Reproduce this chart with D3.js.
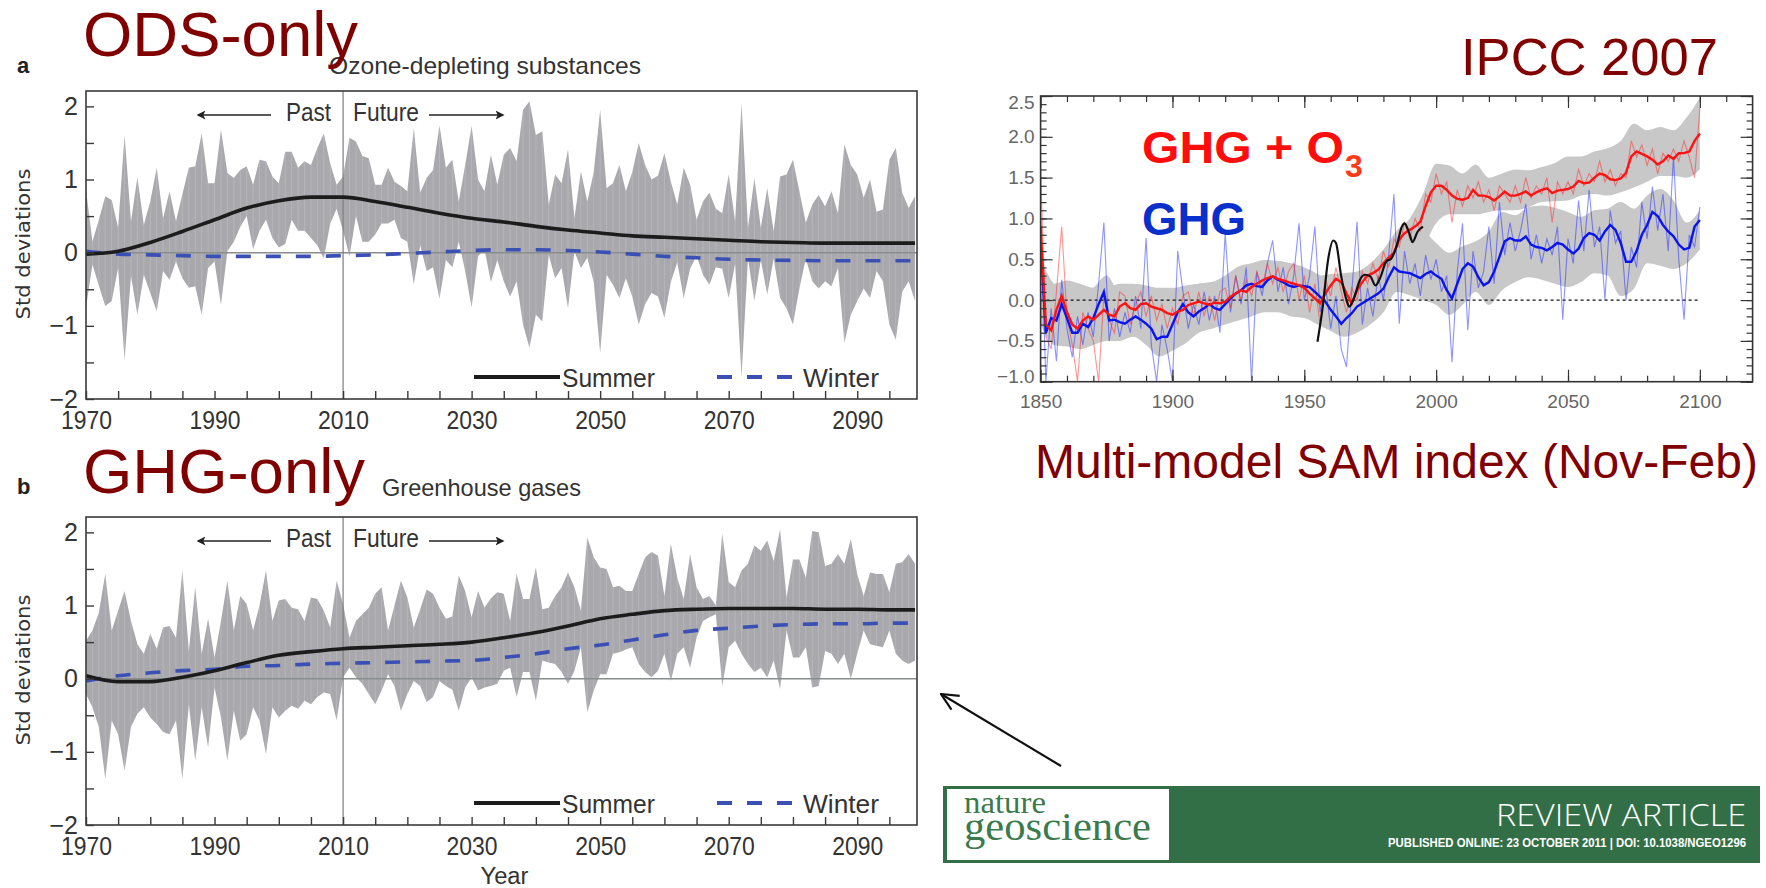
<!DOCTYPE html>
<html>
<head>
<meta charset="utf-8">
<script src="https://cdn.jsdelivr.net/npm/d3@7"></script>
<style>
  body { margin: 0; background: #fff; }
  svg { display: block; font-family: "Liberation Sans", Arial, sans-serif; }
</style>
</head>
<body>
<svg id="chart" width="1766" height="888"></svg>
<script>
// ---- panels a and b: yearly envelope of the grey band, 1970..2099 ----
const startYear = 1970;

const odsHi = [
  0.86, 0.15, 0.45, 0.77, 0.72, 0.34, 1.61, 0.43, 1.03, 0.38,
  0.70, 1.16, 0.47, 0.84, 0.43, 0.80, 1.16, 1.18, 1.63, 0.95,
  0.95, 1.68, 1.09, 1.02, 1.13, 1.18, 0.93, 1.27, 1.25, 1.04,
  0.95, 1.38, 1.38, 1.16, 1.25, 1.20, 1.43, 1.63, 1.22, 0.93,
  1.04, 1.57, 1.52, 1.32, 1.29, 0.93, 0.93, 1.16, 0.97, 0.91,
  0.84, 1.70, 0.82, 1.02, 1.13, 1.74, 1.16, 1.27, 0.70, 1.20,
  1.73, 1.00, 0.84, 1.34, 0.93, 1.34, 1.43, 1.25, 1.95, 2.07,
  1.61, 1.66, 0.66, 1.07, 0.95, 1.41, 0.47, 1.11, 0.70, 1.10,
  1.95, 0.88, 0.95, 1.20, 0.84, 1.10, 1.50, 1.20, 1.00, 1.05,
  1.36, 0.97, 0.66, 1.16, 0.93, 0.45, 0.70, 0.82, 0.60, 0.54,
  1.07, 0.43, 2.04, 0.34, 1.02, 0.34, 0.88, 0.29, 1.04, 1.07,
  1.27, 0.84, 0.41, 0.66, 0.79, 0.63, 0.84, 0.54, 1.48, 1.20,
  1.07, 0.75, 1.00, 0.56, 0.59, 1.27, 1.43, 0.82, 0.61, 0.77
];
const odsLo = [
  -0.75, -0.16, -0.45, -0.73, -0.66, -0.21, -1.47, -0.32, -0.85, -0.30,
  -0.55, -0.80, -0.25, -0.37, -0.12, -0.35, -0.48, -0.46, -0.85, -0.21,
  -0.12, -0.71, 0.02, 0.15, 0.35, 0.50, 0.05, 0.30, 0.45, 0.20,
  0.07, 0.12, 0.45, 0.30, 0.30, 0.20, 0.10, -0.08, 0.40, 0.60,
  0.30, -0.05, 0.50, 0.15, 0.15, 0.25, 0.40, 0.40, 0.45, 0.20,
  0.15, -0.43, 0.10, -0.25, -0.20, -0.63, -0.10, -0.20, 0.15, -0.25,
  -0.75, -0.05, 0.05, -0.40, -0.10, -0.39, -0.60, -0.39, -0.98, -1.30,
  -0.85, -0.94, -0.03, -0.35, -0.21, -0.76, 0.02, -0.21, -0.07, -0.40,
  -1.37, -0.30, -0.44, -0.62, -0.35, -0.60, -0.98, -0.70, -0.55, -0.60,
  -0.89, -0.40, -0.13, -0.62, -0.22, -0.04, -0.30, -0.44, -0.20, -0.22,
  -0.62, -0.15, -1.70, -0.08, -0.66, -0.10, -0.57, -0.08, -0.62, -0.76,
  -0.98, -0.49, -0.08, -0.39, -0.49, -0.39, -0.46, -0.21, -1.23, -0.85,
  -0.66, -0.49, -0.62, -0.25, -0.39, -0.98, -1.19, -0.53, -0.39, -0.66
];
const ghgHi = [
  0.52, 0.66, 0.90, 1.43, 0.66, 0.93, 1.20, 0.79, 0.47, 0.34,
  0.61, 0.41, 0.70, 0.72, 0.56, 1.48, 0.38, 1.25, 0.34, 0.82,
  0.29, 0.79, 1.34, 0.66, 1.13, 1.02, 0.66, 1.00, 1.48, 0.79,
  1.07, 1.09, 0.97, 0.95, 0.79, 1.11, 1.09, 0.93, 0.70, 1.34,
  1.02, 0.56, 0.79, 0.88, 0.97, 1.16, 1.25, 0.66, 1.00, 1.34,
  1.11, 0.70, 0.95, 1.22, 1.16, 0.97, 0.82, 0.85, 1.41, 1.20,
  0.84, 1.20, 0.97, 1.10, 1.18, 1.16, 0.79, 1.43, 1.09, 1.09,
  1.52, 0.95, 0.97, 1.13, 1.25, 1.45, 1.25, 0.93, 1.93, 1.66,
  1.52, 1.50, 1.25, 1.27, 1.20, 1.20, 1.43, 1.66, 1.73, 1.68,
  1.13, 1.84, 1.38, 1.09, 1.70, 1.25, 1.09, 1.13, 1.00, 1.98,
  1.32, 1.25, 1.48, 1.57, 1.82, 1.75, 1.89, 1.61, 2.04, 1.11,
  1.63, 1.63, 1.38, 2.02, 2.00, 1.54, 1.57, 1.70, 1.57, 1.91,
  1.43, 1.13, 1.45, 1.43, 1.43, 1.18, 1.57, 1.59, 1.70, 1.57
];
const ghgLo = [
  -0.21, -0.39, -0.66, -1.37, -0.57, -0.76, -1.26, -0.66, -0.48, -0.39,
  -0.53, -0.62, -0.73, -0.76, -0.57, -1.37, -0.35, -1.12, -0.39, -0.94,
  -0.12, -0.53, -1.12, -0.44, -0.85, -0.76, -0.39, -0.57, -1.03, -0.39,
  -0.53, -0.44, -0.37, -0.41, -0.30, -0.35, -0.25, -0.19, -0.21, -0.57,
  0.02, 0.15, 0.02, -0.07, -0.21, -0.35, -0.16, 0.06, -0.10, -0.44,
  -0.21, -0.03, -0.10, -0.32, -0.25, -0.03, -0.10, -0.15, -0.44, -0.12,
  0.02, -0.16, -0.12, -0.10, -0.07, 0.11, 0.15, -0.25, 0.09, 0.09,
  -0.30, 0.25, 0.22, 0.20, 0.09, -0.07, 0.11, 0.43, -0.46, -0.16,
  0.06, 0.06, 0.34, 0.36, 0.40, 0.43, 0.20, 0.09, 0.02, 0.11,
  0.34, -0.03, 0.34, 0.43, 0.15, 0.56, 0.79, 0.84, 0.88, -0.10,
  0.43, 0.52, 0.34, 0.20, 0.09, 0.15, 0.02, 0.25, -0.14, 0.66,
  0.29, 0.29, 0.43, -0.12, -0.10, 0.38, 0.34, 0.20, 0.34, 0.00,
  0.34, 0.66, 0.47, 0.45, 0.43, 0.66, 0.34, 0.25, 0.20, 0.25
];

// smooth summer / winter curves, every 5 years
const smoothYears = [1970, 1975, 1980, 1985, 1990, 1995, 2000, 2005, 2010, 2015, 2020, 2025, 2030, 2035,
  2040, 2045, 2050, 2055, 2060, 2065, 2070, 2075, 2080, 2085, 2090, 2095, 2099];
const odsSummer = [-0.02, 0.02, 0.14, 0.29, 0.45, 0.61, 0.71, 0.76, 0.76, 0.70, 0.62, 0.54, 0.47, 0.42,
  0.36, 0.31, 0.27, 0.23, 0.21, 0.19, 0.17, 0.15, 0.14, 0.13, 0.13, 0.13, 0.13];
const odsWinter = [0.02, -0.02, -0.03, -0.04, -0.05, -0.05, -0.05, -0.05, -0.04, -0.03, -0.01, 0.01, 0.03, 0.04,
  0.04, 0.03, 0.01, -0.02, -0.05, -0.07, -0.09, -0.10, -0.105, -0.11, -0.11, -0.11, -0.11];
const ghgSummer = [0.04, -0.04, -0.04, 0.02, 0.11, 0.22, 0.32, 0.37, 0.41, 0.43, 0.45, 0.47, 0.50, 0.56,
  0.63, 0.72, 0.82, 0.88, 0.93, 0.95, 0.96, 0.96, 0.96, 0.95, 0.95, 0.94, 0.94];
const ghgWinter = [-0.03, 0.04, 0.08, 0.11, 0.13, 0.17, 0.18, 0.20, 0.21, 0.22, 0.23, 0.24, 0.25, 0.29,
  0.34, 0.41, 0.46, 0.53, 0.60, 0.66, 0.69, 0.72, 0.74, 0.75, 0.75, 0.76, 0.76];

const yearTicks = [1970, 1990, 2010, 2030, 2050, 2070, 2090];
const stdTicks = [-2, -1, 0, 1, 2];

// ---- IPCC 2007 SAM index, 1850..2100 ----
const sampleYears = d3.range(1850, 2101, 2);
const o3Thick = [
  0.90, -0.30, -0.37, -0.12, 0.05, -0.15, -0.30, -0.35, -0.25, -0.20,
  -0.24, -0.18, -0.12, -0.18, -0.20, -0.08, -0.04, -0.10, -0.12, -0.05,
  -0.04, -0.08, -0.10, -0.12, -0.16, -0.18, -0.14, -0.12, -0.06, -0.04,
  -0.02, -0.04, -0.06, -0.03, -0.04, -0.02, 0.04, 0.08, 0.12, 0.10,
  0.16, 0.20, 0.24, 0.27, 0.29, 0.26, 0.24, 0.22, 0.20, 0.18,
  0.15, 0.08, 0.02, -0.04, 0.08, 0.18, 0.26, 0.22, 0.08, -0.04,
  0.12, 0.22, 0.30, 0.33, 0.37, 0.45, 0.52, 0.58, 0.74, 0.82,
  0.86, 0.90, 0.96, 1.15, 1.32, 1.40, 1.40, 1.35, 1.28, 1.24,
  1.23, 1.25, 1.35, 1.28, 1.28, 1.26, 1.22, 1.27, 1.33, 1.28,
  1.28, 1.30, 1.33, 1.28, 1.32, 1.35, 1.37, 1.31, 1.34, 1.35,
  1.36, 1.39, 1.46, 1.43, 1.44, 1.50, 1.55, 1.53, 1.48, 1.47,
  1.49, 1.56, 1.76, 1.82, 1.79, 1.76, 1.72, 1.66, 1.70, 1.77,
  1.73, 1.80, 1.80, 1.82, 1.95, 2.04
];
const ghgThick = [
  0.70, -0.40, -0.22, -0.25, -0.05, -0.22, -0.40, -0.40, -0.29, -0.33,
  -0.22, -0.05, 0.10, -0.25, -0.24, -0.27, -0.29, -0.24, -0.20, -0.24,
  -0.29, -0.35, -0.48, -0.45, -0.45, -0.30, -0.15, -0.05, -0.15, -0.20,
  -0.14, -0.10, -0.05, -0.10, -0.12, -0.05, 0.02, 0.08, 0.12, 0.18,
  0.20, 0.17, 0.16, 0.24, 0.29, 0.25, 0.22, 0.18, 0.16, 0.18,
  0.17, 0.16, 0.10, 0.04, -0.02, -0.12, -0.20, -0.29, -0.22, -0.16,
  -0.08, -0.04, 0.00, 0.04, 0.08, 0.14, 0.28, 0.40, 0.35, 0.34,
  0.33, 0.30, 0.27, 0.32, 0.35, 0.30, 0.26, 0.12, 0.02, 0.20,
  0.38, 0.45, 0.41, 0.28, 0.18, 0.22, 0.35, 0.53, 0.72, 0.76,
  0.73, 0.73, 0.78, 0.68, 0.65, 0.64, 0.61, 0.65, 0.70, 0.68,
  0.62, 0.57, 0.63, 0.76, 0.82, 0.80, 0.73, 0.84, 0.92, 0.86,
  0.70, 0.47, 0.47, 0.60, 0.80, 0.92, 1.08, 1.03, 0.92, 0.84,
  0.78, 0.68, 0.62, 0.64, 0.90, 0.98
];
const o3Thin = [
  1.60, -0.45, -0.60, 0.10, 0.90, -0.20, -0.55, -1.00, -0.15, -0.35,
  -0.50, -1.00, 0.05, -0.25, -0.40, 0.10, 0.05, -0.30, -0.05, 0.10,
  -0.20, 0.05, -0.25, -0.05, -0.35, -0.10, -0.30, 0.05, 0.10, -0.20,
  0.10, -0.20, 0.05, -0.25, 0.10, 0.15, -0.10, 0.30, 0.00, 0.25,
  0.05, 0.35, 0.15, 0.45, 0.20, 0.40, 0.10, 0.35, 0.45, 0.00,
  0.30, -0.15, 0.20, -0.30, 0.25, 0.05, 0.40, 0.10, -0.15, 0.15,
  0.00, 0.35, 0.20, 0.45, 0.25, 0.60, 0.40, 0.75, 0.65, 0.95,
  0.75, 1.00, 0.85, 1.30, 1.20, 1.55, 1.30, 1.45, 0.95, 1.35,
  1.15, 1.40, 1.25, 1.45, 1.20, 1.35, 1.10, 1.40, 1.30, 1.20,
  1.40, 1.20, 1.50, 1.25, 1.40, 1.30, 1.50, 0.95, 1.45, 1.30,
  1.45, 1.30, 1.60, 1.40, 1.55, 1.45, 1.70, 1.45, 1.60, 1.40,
  1.55, 1.50, 1.95, 1.75, 1.90, 1.65, 1.85, 1.55, 1.80, 1.70,
  1.85, 1.70, 1.95, 1.75, 1.50, 2.35
];
const ghgThin = [
  1.00, -1.00, -0.10, -0.75, 0.25, -0.35, -0.70, -0.20, -0.55, -0.15,
  -0.45, 0.20, 0.95, -0.50, -0.10, -0.45, -0.15, -0.40, 0.05, -0.35,
  0.76, -0.55, -1.00, -0.30, -0.60, -1.00, 0.60, 0.10, -0.35, -0.05,
  -0.30, 0.10, -0.25, 0.05, -0.40, 0.82, -0.15, 0.30, -0.05, 0.40,
  -1.00, 0.35, 0.05, 0.45, 0.73, 0.10, 0.40, -0.05, 0.30, 0.94,
  0.00, 0.30, 0.90, -0.15, 0.20, -0.35, 0.05, -0.60, -0.82, 0.10,
  0.96, -0.30, 0.15, -0.20, 0.30, 0.00, 0.55, 1.30, -0.29, 0.60,
  0.20, 0.45, 0.05, 0.55, 0.25, 0.50, 0.10, 0.30, -0.76, 0.35,
  0.94, -0.37, 0.60, 0.15, 0.35, 0.90, 0.20, 1.20, 0.55, 0.95,
  0.60, 0.85, 1.18, 0.50, 0.80, 0.45, 0.75, 0.55, 0.90, -0.24,
  0.75, 0.45, 1.22, 0.60, 1.35, 0.65, 0.90, 0.00, 1.10, 0.70,
  0.85, 0.00, 0.65, 0.40, 1.20, 0.75, 1.39, 0.85, 1.30, 0.60,
  1.76, 0.50, -0.24, 0.80, 0.65, 1.14
];

const bandYears = d3.range(1850, 2101, 5);
const o3BandHi = [
  0.50, 0.20, 0.24, 0.20, 0.15, 0.15, 0.20, 0.20, 0.18, 0.15,
  0.15, 0.18, 0.20, 0.22, 0.30, 0.41, 0.45, 0.49, 0.48, 0.45,
  0.40, 0.30, 0.32, 0.33, 0.35, 0.45, 0.62, 0.85, 1.00, 1.30,
  1.67, 1.65, 1.55, 1.66, 1.50, 1.55, 1.60, 1.59, 1.63, 1.68,
  1.76, 1.76, 1.82, 1.86, 1.95, 2.16, 2.08, 2.12, 2.08, 2.24,
  2.48
];
const o3BandLo = [
  -0.30, -0.45, -0.50, -0.55, -0.50, -0.45, -0.40, -0.38, -0.40, -0.45,
  -0.45, -0.40, -0.35, -0.30, -0.25, -0.20, -0.12, -0.08, -0.05, -0.08,
  -0.12, -0.20, -0.15, -0.20, -0.15, 0.05, 0.25, 0.45, 0.55, 0.65,
  0.94, 1.05, 1.05, 1.05, 1.08, 1.10, 1.10, 1.14, 1.20, 1.21,
  1.22, 1.28, 1.30, 1.28, 1.32, 1.38, 1.45, 1.52, 1.52, 1.50,
  1.60
];
const ghgBandHi = [
  0.50, 0.20, 0.10, 0.05, 0.15, 0.30, 0.10, 0.15, 0.10, 0.00,
  0.05, 0.15, 0.20, 0.22, 0.28, 0.38, 0.45, 0.48, 0.48, 0.44,
  0.40, 0.32, 0.20, 0.15, 0.25, 0.35, 0.55, 0.75, 0.95, 0.86,
  0.70, 0.58, 0.66, 0.72, 0.84, 1.08, 1.04, 1.14, 1.16, 1.13,
  1.08, 1.02, 1.10, 1.12, 1.20, 1.12, 1.28, 1.36, 1.22, 0.95,
  1.10
];
const ghgBandLo = [
  -0.30, -0.55, -0.57, -0.60, -0.55, -0.50, -0.50, -0.45, -0.55, -0.69,
  -0.62, -0.53, -0.40, -0.35, -0.30, -0.25, -0.20, -0.15, -0.15, -0.20,
  -0.22, -0.30, -0.38, -0.45, -0.40, -0.30, -0.15, 0.10, 0.06, 0.00,
  -0.06, -0.18, -0.06, 0.10, -0.06, 0.12, 0.22, 0.28, 0.25, 0.20,
  0.16, 0.22, 0.33, 0.30, 0.05, 0.14, 0.45, 0.42, 0.38, 0.45,
  0.62
];

const obsYears = [1955, 1957, 1959, 1961, 1962, 1964, 1966, 1967, 1969, 1971, 1973,
  1975, 1977, 1979, 1981, 1983, 1985, 1987, 1988, 1990, 1991, 1993, 1995];
const obsVals = [-0.51, -0.08, 0.49, 0.73, 0.70, 0.29, 0.00, -0.08, 0.04, 0.24, 0.31,
  0.29, 0.18, 0.29, 0.47, 0.51, 0.66, 0.90, 0.94, 0.80, 0.71, 0.84, 0.90];

const samYearLabels = [1850, 1900, 1950, 2000, 2050, 2100];
const samLabels = [-1, -0.5, 0, 0.5, 1, 1.5, 2, 2.5];

// ---------------------------------------------------------------
const svg = d3.select("#chart");
const narrow = '"Liberation Sans Narrow", "Liberation Sans", Arial, sans-serif';
const darkRed = "#800000";
const ink = "#333";

function squeeze(sel, w) {
  return sel.attr("textLength", w).attr("lengthAdjust", "spacingAndGlyphs");
}

const xA = d3.scaleLinear().domain([1970, 2099.3]).range([86, 917]);

function drawPanel(p) {
  const top = p.top, bottom = top + 308;
  const y = d3.scaleLinear().domain([-2, 2.21]).range([bottom, top]);
  const g = svg.append("g");
  const yr = i => xA(startYear + i);

  const area = d3.area().x((d, i) => yr(i)).y0((d, i) => y(p.lo[i])).y1(d => y(d));
  g.append("clipPath").attr("id", "clip-" + p.letter)
    .append("path").attr("d", area(p.hi));
  g.append("path").attr("d", area(p.hi)).attr("fill", "#a8a8ad");
  // faint year stripes inside the band
  g.append("g").attr("clip-path", `url(#clip-${p.letter})`)
    .selectAll("line").data(p.hi).join("line")
    .attr("x1", (d, i) => yr(i)).attr("x2", (d, i) => yr(i))
    .attr("y1", top).attr("y2", bottom)
    .attr("stroke", "#fff").attr("stroke-opacity", 0.17);

  g.append("line")
    .attr("x1", xA.range()[0]).attr("x2", xA.range()[1])
    .attr("y1", y(0)).attr("y2", y(0))
    .attr("stroke", "#8a8d8d").attr("stroke-width", 1.4);
  g.append("line")
    .attr("x1", xA(2010)).attr("x2", xA(2010))
    .attr("y1", top).attr("y2", bottom)
    .attr("stroke", "#7b7b7b").attr("stroke-width", 1.2);

  const line = d3.line().curve(d3.curveMonotoneX).x((d, i) => xA(smoothYears[i])).y(d => y(d));
  g.append("path").attr("d", line(p.winter))
    .attr("fill", "none").attr("stroke", "#3a50b4").attr("stroke-width", 3.6)
    .attr("stroke-dasharray", "15,15");
  g.append("path").attr("d", line(p.summer))
    .attr("fill", "none").attr("stroke", "#1c1c1c").attr("stroke-width", 3.6);

  // axes
  g.append("g")
    .attr("transform", `translate(0,${bottom})`)
    .call(d3.axisBottom(xA).tickValues(d3.range(1970, 2100, 5)).tickSizeInner(-8).tickSizeOuter(0).tickPadding(12)
      .tickFormat(d => yearTicks.includes(d) ? d : ""))
    .call(a => a.select(".domain").remove())
    .call(a => a.selectAll("line").attr("stroke", "#3a3a3a").attr("stroke-width", 1.4))
    .call(a => a.selectAll("text").attr("font-family", narrow).attr("font-size", 25).attr("fill", ink)
      .filter(d => yearTicks.includes(d)).attr("textLength", 51).attr("lengthAdjust", "spacingAndGlyphs"));

  g.append("g")
    .attr("transform", `translate(${xA.range()[0]},0)`)
    .call(d3.axisLeft(y).tickValues(d3.range(-2, 2.01, 0.5)).tickSizeInner(-8).tickSizeOuter(0).tickPadding(8)
      .tickFormat(d => stdTicks.includes(d) ? d3.format("d")(d) : ""))
    .call(a => a.select(".domain").remove())
    .call(a => a.selectAll("line").attr("stroke", "#3a3a3a").attr("stroke-width", 1.4))
    .call(a => a.selectAll("text").attr("font-family", narrow).attr("font-size", 25).attr("fill", ink));

  g.append("rect")
    .attr("x", xA.range()[0]).attr("y", top)
    .attr("width", xA.range()[1] - xA.range()[0]).attr("height", bottom - top)
    .attr("fill", "none").attr("stroke", "#3a3a3a").attr("stroke-width", 1.6);

  g.append("text")
    .attr("transform", `translate(30,${(top + bottom) / 2 - 1}) rotate(-90)`)
    .attr("text-anchor", "middle").attr("font-family", "DejaVu Sans, sans-serif")
    .attr("font-size", 20).attr("fill", ink)
    .call(s => squeeze(s, 151))
    .text("Std deviations");

  // past / future
  const pf = top + 30;
  squeeze(g.append("text").attr("x", xA(2010) - 57).attr("y", pf)
    .attr("font-family", narrow).attr("font-size", 26).attr("fill", ink).text("Past"), 45);
  squeeze(g.append("text").attr("x", xA(2010) + 10).attr("y", pf)
    .attr("font-family", narrow).attr("font-size", 26).attr("fill", ink).text("Future"), 66);
  g.append("line").attr("x1", 271).attr("x2", 198).attr("y1", pf - 6).attr("y2", pf - 6)
    .attr("stroke", "#222").attr("stroke-width", 1.6).attr("marker-end", "url(#pf-head)");
  g.append("line").attr("x1", 429).attr("x2", 503).attr("y1", pf - 6).attr("y2", pf - 6)
    .attr("stroke", "#222").attr("stroke-width", 1.6).attr("marker-end", "url(#pf-head)");

  // legend
  const ly = top + 286;
  g.append("line").attr("x1", 474).attr("x2", 560).attr("y1", ly).attr("y2", ly)
    .attr("stroke", "#1c1c1c").attr("stroke-width", 4);
  squeeze(g.append("text").attr("x", 562).attr("y", ly + 10)
    .attr("font-family", narrow).attr("font-size", 26).attr("fill", ink).text("Summer"), 93);
  g.append("line").attr("x1", 717).attr("x2", 793).attr("y1", ly).attr("y2", ly)
    .attr("stroke", "#3a50b4").attr("stroke-width", 4).attr("stroke-dasharray", "15,15");
  squeeze(g.append("text").attr("x", 803).attr("y", ly + 10)
    .attr("font-family", narrow).attr("font-size", 26).attr("fill", ink).text("Winter"), 76);

  // headings
  g.append("text").attr("x", 17).attr("y", p.letterY)
    .attr("font-weight", "bold").attr("font-size", 22).attr("fill", "#222").text(p.letter);
  squeeze(g.append("text").attr("x", p.subX).attr("y", p.subY)
    .attr("font-family", narrow).attr("font-size", 24).attr("fill", ink).text(p.subtitle), p.subW);
  squeeze(g.append("text").attr("x", 83).attr("y", p.bigY)
    .attr("font-size", 63).attr("fill", darkRed).text(p.big), p.bigW);
  return { y, bottom };
}

const defs = svg.append("defs");
defs.append("marker").attr("id", "pf-head").attr("viewBox", "0 0 12 12")
  .attr("refX", 10).attr("refY", 6).attr("markerWidth", 9).attr("markerHeight", 9)
  .attr("markerUnits", "userSpaceOnUse").attr("orient", "auto")
  .append("path").attr("d", "M0,0 L12,6 L0,12 L3,6 Z").attr("fill", "#222");
defs.append("marker").attr("id", "open-head").attr("viewBox", "0 0 20 20")
  .attr("refX", 19).attr("refY", 10).attr("markerWidth", 20).attr("markerHeight", 20)
  .attr("markerUnits", "userSpaceOnUse").attr("orient", "auto")
  .append("path").attr("d", "M2,2 L19,10 L2,18").attr("fill", "none")
  .attr("stroke", "#111").attr("stroke-width", 2.2);

drawPanel({ top: 91, hi: odsHi, lo: odsLo, summer: odsSummer, winter: odsWinter,
  letter: "a", letterY: 73, subtitle: "Ozone-depleting substances", subX: 329, subY: 74, subW: 312,
  big: "ODS-only", bigY: 56, bigW: 275 });
drawPanel({ top: 517, hi: ghgHi, lo: ghgLo, summer: ghgSummer, winter: ghgWinter,
  letter: "b", letterY: 494, subtitle: "Greenhouse gases", subX: 382, subY: 496, subW: 199,
  big: "GHG-only", bigY: 493, bigW: 282 });

squeeze(svg.append("text").attr("x", (xA.range()[0] + xA.range()[1]) / 2 + 3).attr("y", 884)
  .attr("text-anchor", "middle").attr("font-family", narrow).attr("font-size", 23).attr("fill", ink)
  .text("Year"), 48);

// ---------------- IPCC panel ----------------
const xI = d3.scaleLinear().domain([1850, 2120]).range([1040.6, 1752.6]);
const yI = d3.scaleLinear().domain([-1, 2.5]).range([381.7, 96]);
const ig = svg.append("g");
ig.append("clipPath").attr("id", "clip-ipcc").append("rect")
  .attr("x", xI(1850)).attr("y", yI(2.5))
  .attr("width", xI(2120) - xI(1850)).attr("height", yI(-1) - yI(2.5));
const plot = ig.append("g").attr("clip-path", "url(#clip-ipcc)");

const band = (hi, lo) => d3.area().curve(d3.curveMonotoneX)
  .x((d, i) => xI(bandYears[i])).y0((d, i) => yI(lo[i])).y1(d => yI(d))(hi);
plot.append("path").attr("d", band(ghgBandHi, ghgBandLo)).attr("fill", "#c8c8c8");
plot.append("path").attr("d", band(o3BandHi, o3BandLo)).attr("fill", "#c8c8c8");

plot.append("line")
  .attr("x1", xI(1850)).attr("x2", xI(2100)).attr("y1", yI(0)).attr("y2", yI(0))
  .attr("stroke", "#111").attr("stroke-width", 1.3).attr("stroke-dasharray", "3,3");

const sLine = d3.line().x((d, i) => xI(sampleYears[i])).y(d => yI(d));
plot.append("path").attr("d", sLine(ghgThin)).attr("fill", "none")
  .attr("stroke", "rgba(30,40,255,0.5)").attr("stroke-width", 1.1);
plot.append("path").attr("d", sLine(o3Thin)).attr("fill", "none")
  .attr("stroke", "rgba(255,40,40,0.5)").attr("stroke-width", 1.1);
plot.append("path").attr("d", sLine(ghgThick)).attr("fill", "none")
  .attr("stroke", "#0a14f0").attr("stroke-width", 2.4);
plot.append("path").attr("d", sLine(o3Thick)).attr("fill", "none")
  .attr("stroke", "#ff1212").attr("stroke-width", 2.4);
plot.append("path")
  .attr("d", d3.line().curve(d3.curveMonotoneX).x((d, i) => xI(obsYears[i])).y(d => yI(d))(obsVals))
  .attr("fill", "none").attr("stroke", "#111").attr("stroke-width", 2.2);

function styleI(a) {
  a.select(".domain").remove();
  a.selectAll("line").attr("stroke", "#333").attr("stroke-width", 1.2);
  a.selectAll("text").attr("font-family", "Liberation Sans, Arial, sans-serif")
    .attr("font-size", 19).attr("fill", "#666");
}
const minorYears = d3.range(1860, 2120, 10);
ig.append("g").attr("transform", `translate(0,${yI(-1)})`)
  .call(d3.axisBottom(xI).tickValues(minorYears).tickSizeInner(-6).tickSizeOuter(0).tickFormat(""))
  .call(styleI);
ig.append("g").attr("transform", `translate(0,${yI(-1)})`)
  .call(d3.axisBottom(xI).tickValues(samYearLabels).tickSizeInner(-12).tickSizeOuter(0).tickPadding(13)
    .tickFormat(d3.format("d")))
  .call(styleI);
ig.append("g").attr("transform", `translate(0,${yI(2.5)})`)
  .call(d3.axisTop(xI).tickValues(minorYears).tickSizeInner(-6).tickSizeOuter(0).tickFormat(""))
  .call(styleI);
ig.append("g").attr("transform", `translate(0,${yI(2.5)})`)
  .call(d3.axisTop(xI).tickValues(samYearLabels).tickSizeInner(-12).tickSizeOuter(0).tickFormat(""))
  .call(styleI);

const minorVals = d3.range(-10, 26).map(d => d / 10);
ig.append("g").attr("transform", `translate(${xI(1850)},0)`)
  .call(d3.axisLeft(yI).tickValues(minorVals).tickSizeInner(-6).tickSizeOuter(0).tickFormat(""))
  .call(styleI);
ig.append("g").attr("transform", `translate(${xI(1850)},0)`)
  .call(d3.axisLeft(yI).tickValues(samLabels).tickSizeInner(-12).tickSizeOuter(0).tickPadding(6)
    .tickFormat(d3.format(".1f")))
  .call(styleI)
  .call(a => a.selectAll("text").attr("dy", d => d === 2.5 ? "0.66em" : d === -1 ? "0.02em" : "0.32em"));
ig.append("g").attr("transform", `translate(${xI(2120)},0)`)
  .call(d3.axisRight(yI).tickValues(minorVals).tickSizeInner(-6).tickSizeOuter(0).tickFormat(""))
  .call(styleI);
ig.append("g").attr("transform", `translate(${xI(2120)},0)`)
  .call(d3.axisRight(yI).tickValues(samLabels).tickSizeInner(-12).tickSizeOuter(0).tickFormat(""))
  .call(styleI);

ig.append("rect")
  .attr("x", xI(1850)).attr("y", yI(2.5))
  .attr("width", xI(2120) - xI(1850)).attr("height", yI(-1) - yI(2.5))
  .attr("fill", "none").attr("stroke", "#333").attr("stroke-width", 1.6);

squeeze(ig.append("text").attr("x", 1142).attr("y", 163)
  .attr("font-weight", "bold").attr("font-size", 44).attr("fill", "#ff0d0d").text("GHG + O"), 202);
ig.append("text").attr("x", 1345).attr("y", 177)
  .attr("font-weight", "bold").attr("font-size", 32).attr("fill", "#ff3a14").text("3");
squeeze(ig.append("text").attr("x", 1142).attr("y", 235)
  .attr("font-weight", "bold").attr("font-size", 46).attr("fill", "#0a30cc").text("GHG"), 104);

squeeze(svg.append("text").attr("x", 1461).attr("y", 75)
  .attr("font-size", 52).attr("fill", darkRed).text("IPCC 2007"), 257);
squeeze(svg.append("text").attr("x", 1035).attr("y", 478)
  .attr("font-size", 48).attr("fill", darkRed).text("Multi-model SAM index (Nov-Feb)"), 723);

// ---------------- journal banner + arrow ----------------
const bn = svg.append("g");
bn.append("rect").attr("x", 943).attr("y", 786).attr("width", 817).attr("height", 77).attr("fill", "#336f46");
bn.append("rect").attr("x", 947).attr("y", 789).attr("width", 222).attr("height", 71).attr("fill", "#fff");
squeeze(bn.append("text").attr("x", 964).attr("y", 813)
  .attr("font-family", "Liberation Serif, serif").attr("font-size", 32).attr("fill", "#3a7a4c").text("nature"), 82);
squeeze(bn.append("text").attr("x", 964).attr("y", 840)
  .attr("font-family", "Liberation Serif, serif").attr("font-size", 40).attr("fill", "#3a7a4c").text("geoscience"), 187);
squeeze(bn.append("text").attr("x", 1746).attr("y", 826).attr("text-anchor", "end")
  .attr("font-family", "Open Sans, Liberation Sans, sans-serif").attr("font-weight", 300)
  .attr("font-size", 31).attr("fill", "#fff").text("REVIEW ARTICLE"), 250);
squeeze(bn.append("text").attr("x", 1746).attr("y", 847).attr("text-anchor", "end")
  .attr("font-family", narrow).attr("font-weight", "bold")
  .attr("font-size", 13).attr("fill", "#fff").text("PUBLISHED ONLINE: 23 OCTOBER 2011 | DOI: 10.1038/NGEO1296"), 358);

svg.append("line").attr("x1", 1061).attr("y1", 766).attr("x2", 941).attr("y2", 694)
  .attr("stroke", "#111").attr("stroke-width", 2.2).attr("marker-end", "url(#open-head)");
</script>
</body>
</html>
